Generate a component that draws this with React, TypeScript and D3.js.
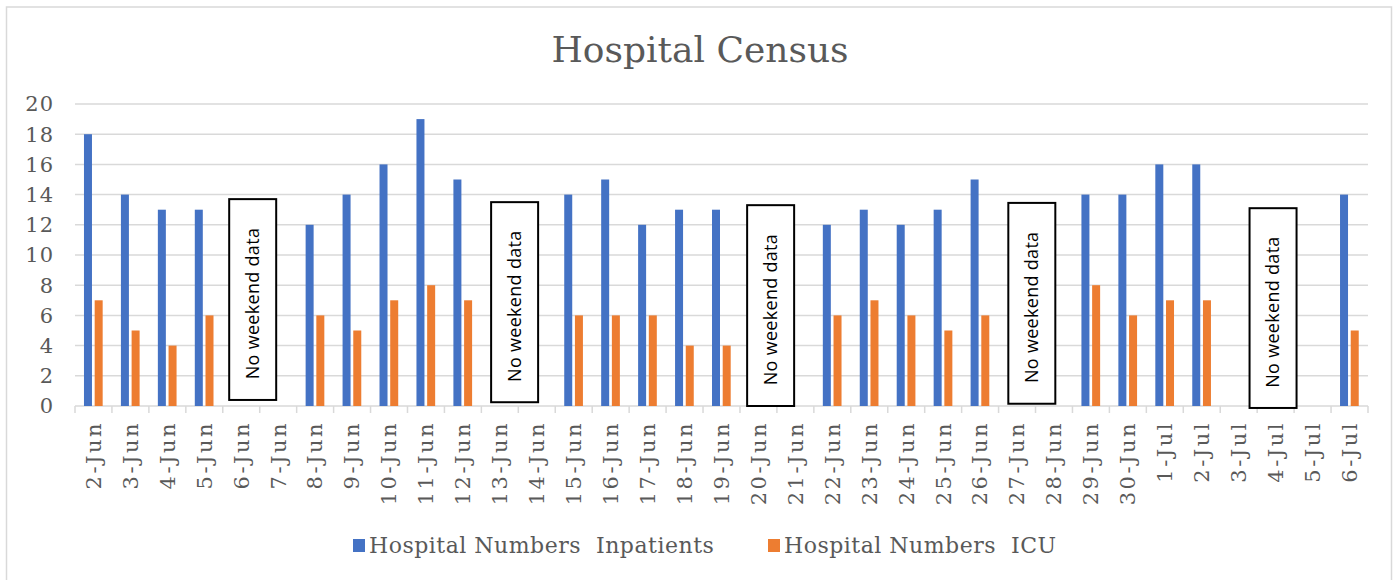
import * as d3 from "d3";
import React from "react";

const days = [
  "2-Jun", "3-Jun", "4-Jun", "5-Jun", "6-Jun", "7-Jun", "8-Jun", "9-Jun",
  "10-Jun", "11-Jun", "12-Jun", "13-Jun", "14-Jun", "15-Jun", "16-Jun",
  "17-Jun", "18-Jun", "19-Jun", "20-Jun", "21-Jun", "22-Jun", "23-Jun",
  "24-Jun", "25-Jun", "26-Jun", "27-Jun", "28-Jun", "29-Jun", "30-Jun",
  "1-Jul", "2-Jul", "3-Jul", "4-Jul", "5-Jul", "6-Jul",
];

const inpatients = [
  18, 14, 13, 13, null, null, 12, 14, 16, 19, 15, null, null, 14, 15, 12, 13,
  13, null, null, 12, 13, 12, 13, 15, null, null, 14, 14, 16, 16, null, null,
  null, 14,
];

const icu = [
  7, 5, 4, 6, null, null, 6, 5, 7, 8, 7, null, null, 6, 6, 6, 4, 4, null,
  null, 6, 7, 6, 5, 6, null, null, 8, 6, 7, 7, null, null, null, 5,
];

const yTicks = [0, 2, 4, 6, 8, 10, 12, 14, 16, 18, 20];

// the text boxes over the weekends: anchor day, shift in bands, top and bottom in values
const weekendNotes = [
  { day: "6-Jun", shift: 0.31, top: 13.7, bottom: 0.4 },
  { day: "13-Jun", shift: 0.4, top: 13.5, bottom: 0.25 },
  { day: "20-Jun", shift: 0.33, top: 13.3, bottom: 0 },
  { day: "27-Jun", shift: 0.4, top: 13.45, bottom: 0.15 },
  { day: "4-Jul", shift: -0.07, top: 13.1, bottom: -0.13 },
];

const series = [
  { name: "Hospital Numbers  Inpatients", values: inpatients, color: "#4472C4" },
  { name: "Hospital Numbers  ICU", values: icu, color: "#ED7D31" },
];

const W = 1395;
const H = 580;
const margin = { left: 75, right: 27, top: 104, bottom: 174 };
const serif = "'DejaVu Serif', serif";
const grey = "#595959";

export default function App() {
  const x = d3
    .scaleBand()
    .domain(days)
    .range([margin.left, W - margin.right]);
  const y = d3
    .scaleLinear()
    .domain([0, 20])
    .range([H - margin.bottom, margin.top]);
  const bw = 8;
  const offsets = [-9.5, 1.2];
  const y0 = y(0);

  return (
    <div style={{ position: "absolute", left: 0, top: 0 }}>
      <svg width={W} height={H} style={{ display: "block", background: "#fff" }}>
        <rect x={6.5} y={7} width={1385} height={600} fill="#fff" stroke="#d9d9d9" strokeWidth={1.5} />
        <text x={700} y={62} textAnchor="middle" fontFamily={serif} fontSize={36} fill={grey}>
          Hospital Census
        </text>

        {yTicks.map((t) => (
          <g key={t}>
            {t > 0 && (
              <line x1={margin.left} x2={W - margin.right} y1={y(t)} y2={y(t)} stroke="#d9d9d9" strokeWidth={1.5} />
            )}
            <text x={54} y={y(t)} dy="0.35em" textAnchor="end" fontFamily={serif} fontSize={21} letterSpacing={1} fill={grey}>
              {t}
            </text>
          </g>
        ))}

        <line x1={margin.left} x2={W - margin.right} y1={y0} y2={y0} stroke="#d9d9d9" strokeWidth={1.5} />
        {d3.range(days.length + 1).map((i) => {
          const xx = margin.left + i * x.step();
          return <line key={i} x1={xx} x2={xx} y1={y0} y2={y0 + 7} stroke="#d9d9d9" strokeWidth={1.5} />;
        })}

        {series.map((s, si) =>
          s.values.map((v, i) =>
            v == null ? null : (
              <rect
                key={si + "-" + i}
                x={(x(days[i]) as number) + x.bandwidth() / 2 + offsets[si]}
                y={y(v)}
                width={bw}
                height={y0 - y(v)}
                fill={s.color}
              />
            )
          )
        )}

        {days.map((d) => {
          const cx = (x(d) as number) + x.bandwidth() / 2;
          return (
            <text
              key={d}
              transform={`translate(${cx},${y0 + 15}) rotate(-90)`}
              textAnchor="end"
              dy="0.35em"
              fontFamily={serif}
              fontSize={21}
              letterSpacing={2.5}
              fill={grey}
            >
              {d}
            </text>
          );
        })}

        {weekendNotes.map((n) => {
          const cx = (x(n.day) as number) + x.bandwidth() / 2 + n.shift * x.step();
          const top = y(n.top);
          const bottom = y(n.bottom);
          const w = 47;
          return (
            <g key={n.day}>
              <rect x={cx - w / 2} y={top} width={w} height={bottom - top} fill="#fff" stroke="#000" strokeWidth={2} />
              <text
                transform={`translate(${cx},${(top + bottom) / 2 + 4}) rotate(-90)`}
                textAnchor="middle"
                dy="0.35em"
                fontFamily="'Open Sans', sans-serif"
                fontSize={18}
                letterSpacing={0.3}
                fill="#000"
              >
                No weekend data
              </text>
            </g>
          );
        })}

        {series.map((s, i) => {
          const lx = i === 0 ? 353 : 768;
          return (
            <g key={s.name}>
              <rect x={lx} y={539} width={12} height={13} fill={s.color} />
              <text
                x={lx + 16}
                y={545}
                dy="0.35em"
                fontFamily={serif}
                fontSize={22}
                letterSpacing={0.5}
                fill={grey}
                style={{ whiteSpace: "pre" }}
              >
                {s.name}
              </text>
            </g>
          );
        })}
      </svg>
    </div>
  );
}
